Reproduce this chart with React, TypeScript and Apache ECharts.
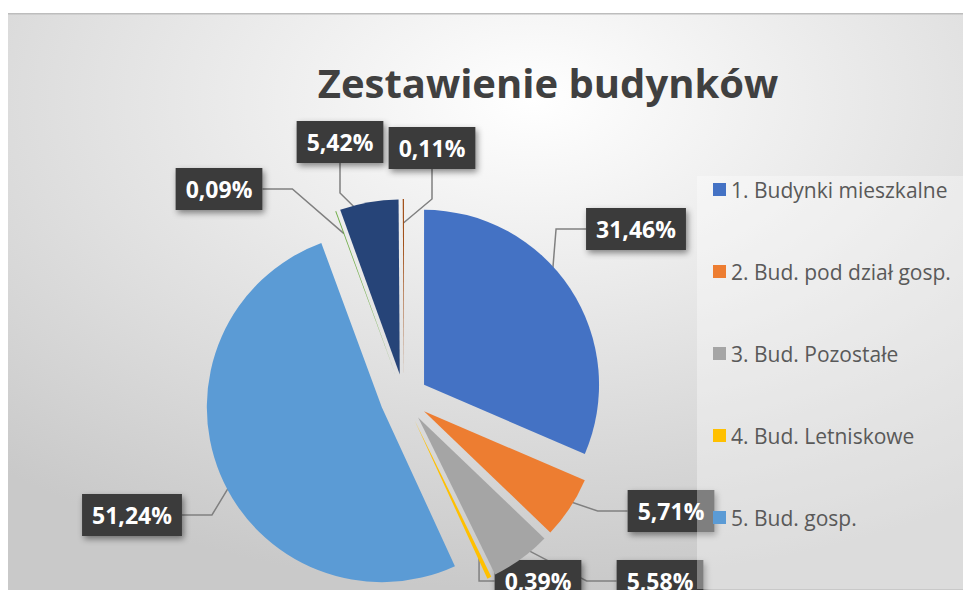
import React, { useEffect, useRef } from 'react';
import * as echarts from 'echarts';

const categories = [
  '1. Budynki mieszkalne',
  '2. Bud. pod dział gosp.',
  '3. Bud. Pozostałe',
  '4. Bud. Letniskowe',
  '5. Bud. gosp.',
  '6.',
  '7.',
  '8.',
];
const shares = [31.46, 5.71, 5.58, 0.39, 51.24, 0.09, 5.42, 0.11];
const legendNames = categories.slice(0, 5);
const titleText = 'Zestawienie budynków';

const COLORS = ['#4472C4', '#ED7D31', '#A5A5A5', '#FFC000', '#5B9BD5', '#70AD47', '#264478', '#9E480E'];
// label box centres (chart pixel coords) — placement style, not data
const LABEL_POS: [number, number][] = [
  [628, 216],
  [663, 498],
  [652, 568],
  [530, 568],
  [124, 502],
  [211, 176],
  [332, 129],
  [424, 135],
];

const PIE_CENTER = [396, 385];
const PIE_RADIUS = 175;

export default function App() {
  const ref = useRef<HTMLDivElement>(null);
  useEffect(() => {
    if (!ref.current) return;
    const chart = echarts.init(ref.current, undefined, { renderer: 'svg' });
    chart.setOption({
      animation: false,
      backgroundColor: {
        type: 'radial',
        x: 0.55,
        y: 0.15,
        r: 0.85,
        colorStops: [
          { offset: 0, color: '#ffffff' },
          { offset: 1, color: '#c9c9c9' },
        ],
      },
      graphic: [
        {
          type: 'line',
          shape: { x1: 0, y1: 0.5, x2: 955, y2: 0.5 },
          style: { stroke: '#bdbdbd', lineWidth: 2 },
          z: 100,
        },
      ],
      title: {
        text: titleText,
        left: 535,
        top: 44,
        textAlign: 'center',
        textStyle: {
          fontFamily: 'Open Sans',
          fontWeight: 'bold',
          fontSize: 40,
          lineHeight: 40,
          color: '#404040',
        },
      },
      legend: {
        data: legendNames,
        orient: 'vertical',
        left: 689,
        top: 163,
        itemWidth: 13,
        itemHeight: 13,
        itemGap: 59,
        padding: [2, 80, 60, 16],
        backgroundColor: 'rgba(255,255,255,0.35)',
        icon: 'rect',
        selectedMode: false,
        textStyle: {
          fontFamily: 'Open Sans',
          fontSize: 21,
          lineHeight: 23,
          color: '#595959',
        },
      },
      series: [
        {
          type: 'pie',
          z: 2,
          center: PIE_CENTER,
          radius: PIE_RADIUS,
          startAngle: 90,
          clockwise: true,
          selectedMode: 'multiple',
          selectedOffset: 24,
          silent: true,
          data: categories.map((name, i) => ({
            name,
            value: shares[i],
            selected: true,
            itemStyle: { color: COLORS[i] },
          })),
          label: { show: false },
          labelLine: { show: false },
          emphasis: { disabled: true },
        },
        {
          type: 'pie',
          z: 1,
          center: PIE_CENTER,
          radius: PIE_RADIUS,
          startAngle: 90,
          clockwise: true,
          selectedMode: false,
          silent: true,
          avoidLabelOverlap: false,
          data: categories.map((name, i) => ({
            name,
            value: shares[i],
            itemStyle: { color: 'rgba(0,0,0,0)' },
          })),
          label: {
            show: true,
            position: 'outside',
            formatter: (p: any) => p.value.toFixed(2).replace('.', ',') + '%',
            fontFamily: 'Open Sans',
            fontWeight: 'bold',
            fontSize: 23,
            lineHeight: 26,
            color: '#ffffff',
            backgroundColor: '#3a3a3a',
            padding: [8, 10, 8, 10],
            shadowColor: 'rgba(0,0,0,0.45)',
            shadowBlur: 6,
            shadowOffsetX: 2,
            shadowOffsetY: 3,
          },
          labelLine: {
            show: true,
            lineStyle: { color: '#808080', width: 1.5 },
          },
          labelLayout: (params: any) => {
            const pos = LABEL_POS[params.dataIndex];
            return {
              x: pos[0],
              y: pos[1],
              align: 'center',
              verticalAlign: 'middle',
              hideOverlap: false,
            };
          },
          emphasis: { disabled: true },
        },
      ],
    });
    return () => chart.dispose();
  }, []);
  return (
    <div
      ref={ref}
      style={{ position: 'absolute', left: 8, top: 13, width: 955, height: 577 }}
    />
  );
}
